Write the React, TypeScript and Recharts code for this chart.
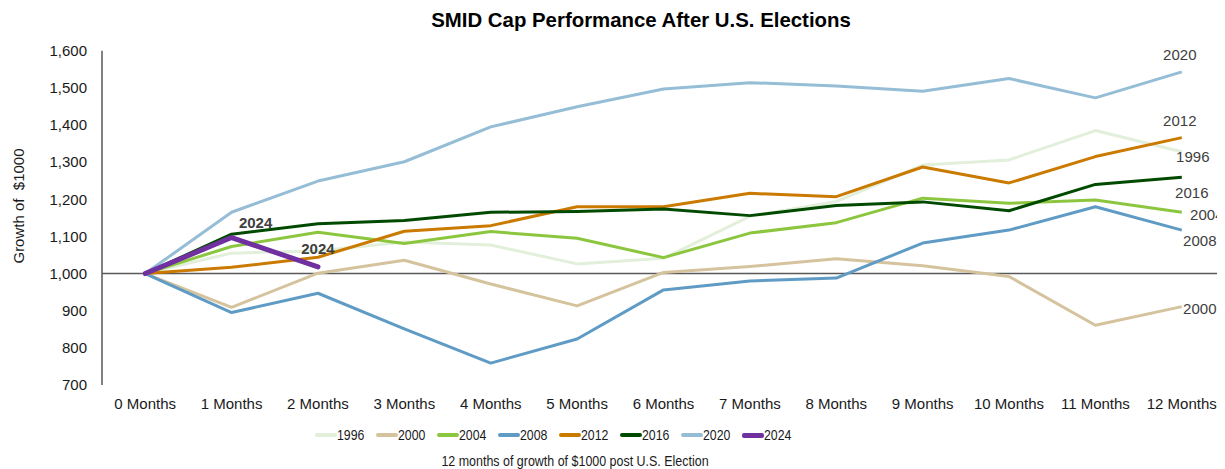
import React from 'react';
import { LineChart, Line, XAxis, YAxis, ReferenceLine, LabelList } from 'recharts';

const months = ['0 Months', '1 Months', '2 Months', '3 Months', '4 Months', '5 Months', '6 Months', '7 Months', '8 Months', '9 Months', '10 Months', '11 Months', '12 Months'];
const s1996 = [1000, 1055, 1061, 1085, 1077, 1026, 1041, 1154, 1194, 1292, 1306, 1385, 1328];
const s2000 = [1000, 909, 1001, 1036, 972, 913, 1003, 1019, 1040, 1021, 992, 861, 911];
const s2004 = [1000, 1073, 1111, 1081, 1113, 1095, 1043, 1109, 1137, 1203, 1189, 1198, 1165];
const s2008 = [1000, 895, 947, 851, 759, 824, 956, 980, 988, 1082, 1117, 1180, 1117];
const s2012 = [1000, 1017, 1044, 1114, 1129, 1180, 1180, 1216, 1207, 1287, 1244, 1315, 1366];
const s2016 = [1000, 1106, 1134, 1143, 1165, 1167, 1174, 1156, 1183, 1193, 1169, 1240, 1259];
const s2020 = [1000, 1165, 1249, 1301, 1395, 1449, 1497, 1514, 1505, 1491, 1525, 1473, 1543];
const s2024 = [1000, 1097, 1018];
const yTicks = [700, 800, 900, 1000, 1100, 1200, 1300, 1400, 1500, 1600];

const seriesNames = ['1996', '2000', '2004', '2008', '2012', '2016', '2020', '2024'];
const seriesValues = [s1996, s2000, s2004, s2008, s2012, s2016, s2020, s2024];

const colors: Record<string, string> = {
  '1996': '#E2EFDA',
  '2000': '#D5C39E',
  '2004': '#8CC63F',
  '2008': '#5F9BC4',
  '2012': '#CB7A00',
  '2016': '#004A00',
  '2020': '#95BED6',
  '2024': '#7030A0',
};

const endOffsets: Record<string, [number, number]> = {
  '1996': [11, 5],
  '2000': [18, 2],
  '2004': [25, 2],
  '2008': [18, 10],
  '2012': [-2, -17],
  '2016': [10, 15],
  '2020': [-2, -17],
};

const label2024Offsets: Record<number, [number, number]> = {
  1: [24, -15],
  2: [0, -18],
};

const data = months.map((m, i) => {
  const row: Record<string, any> = { month: m };
  seriesNames.forEach((n, k) => {
    const v = seriesValues[k][i];
    row['y' + n] = v === undefined ? null : v;
  });
  return row;
});

const FONT = '"Liberation Sans", Arial, sans-serif';

const makeEndLabel = (name: string) => (props: any) => {
  const { x, y, index } = props;
  if (index !== 12 || x == null || y == null) return null;
  const [dx, dy] = endOffsets[name];
  return (
    <text x={x + dx} y={y + dy} textAnchor="middle" dominantBaseline="central" fontSize={15} fill="#404040" fontFamily={FONT}>
      {name}
    </text>
  );
};

const label2024 = (props: any) => {
  const { x, y, index } = props;
  const off = label2024Offsets[index];
  if (!off || x == null || y == null) return null;
  return (
    <text x={x + off[0]} y={y + off[1]} textAnchor="middle" dominantBaseline="central" fontSize={15} fontWeight="bold" fill="#404040" fontFamily={FONT}>
      2024
    </text>
  );
};

export default function App() {
  return (
    <div style={{ position: 'relative', width: 1217, height: 461, overflow: 'hidden', fontFamily: FONT }}>
      <div style={{ position: 'absolute', left: 633, top: 0, transform: 'translateX(-50%)', fontSize: 20.4, fontWeight: 'bold', lineHeight: '24px', whiteSpace: 'nowrap', color: '#000' }}>
        SMID Cap Performance After U.S. Elections
      </div>
      <div style={{ position: 'absolute', left: 11, top: 198, transform: 'translate(-50%, -50%) rotate(-90deg)', fontSize: 15, whiteSpace: 'pre', color: '#1a1a1a', lineHeight: '18px' }}>
        {'Growth of  $1000'}
      </div>
      <LineChart width={1217} height={461} data={data} margin={{ top: 42.7, right: 0, bottom: 54, left: 0 }} style={{ fontFamily: FONT }}>
        <XAxis dataKey="month" height={30} axisLine={false} tickLine={false} tickSize={0} tickMargin={13} padding={{ left: 43.2, right: 43.2 }} tick={{ fontSize: 15, fill: '#1a1a1a' }} interval={0} />
        <YAxis domain={[700, 1600]} ticks={yTicks} width={94} axisLine={{ stroke: '#595959', strokeWidth: 1.5 }} tickLine={false} tickSize={0} tickMargin={15} tick={{ fontSize: 15, fill: '#1a1a1a' }} tickFormatter={(v: number) => v.toLocaleString('en-US')} />
        <ReferenceLine y={1000} stroke="#595959" strokeWidth={1.5} />
        {seriesNames.filter((n) => n !== '2024').map((n) => (
          <Line key={n} dataKey={'y' + n} stroke={colors[n]} strokeWidth={3} dot={false} type="linear" isAnimationActive={false} strokeLinejoin="round">
            <LabelList dataKey={'y' + n} content={makeEndLabel(n)} />
          </Line>
        ))}
        <Line dataKey="y2024" stroke={colors['2024']} strokeWidth={5} dot={false} type="linear" isAnimationActive={false} strokeLinejoin="round" strokeLinecap="round" connectNulls={false}>
          <LabelList dataKey="y2024" content={label2024} />
        </Line>
      </LineChart>
      <div style={{ position: 'absolute', left: 307, top: 418, height: 18, display: 'flex', alignItems: 'center' }}>
        {seriesNames.map((n) => (
          <div key={n} style={{ width: 61, display: 'flex', alignItems: 'center' }}>
            <div style={{ width: 22, height: n === '2024' ? 5 : 4, borderRadius: 2, background: colors[n] }} />
            <div style={{ fontSize: 15, lineHeight: '18px', color: '#1a1a1a', transform: 'scaleX(0.82)', transformOrigin: 'left center', whiteSpace: 'nowrap' }}>{n}</div>
          </div>
        ))}
      </div>
      <div style={{ position: 'absolute', left: 567, top: 445, transform: 'translateX(-50%) scaleX(0.83)', fontSize: 15, lineHeight: '16px', whiteSpace: 'nowrap', color: '#1a1a1a' }}>
        12 months of growth of $1000 post U.S. Election
      </div>
    </div>
  );
}
